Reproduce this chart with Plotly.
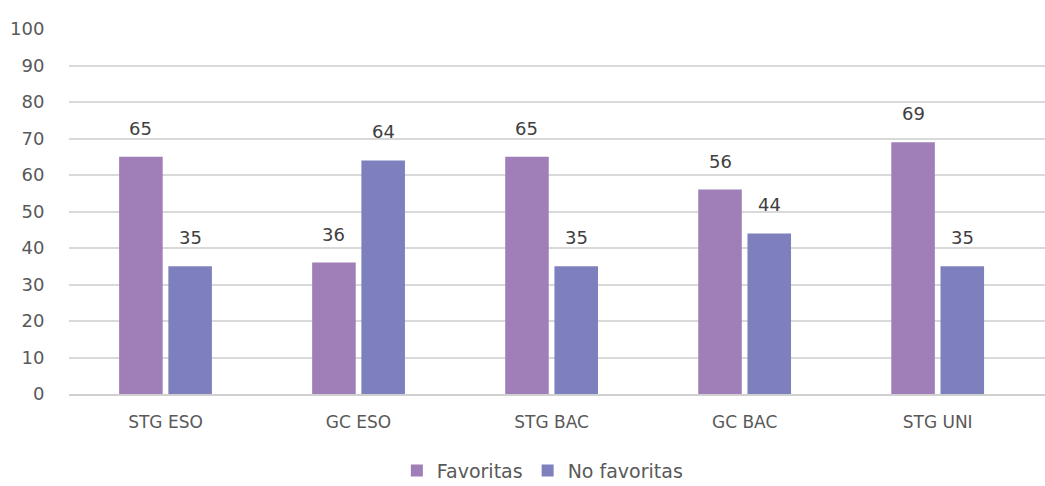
import plotly.graph_objects as go

categories = ["STG ESO", "GC ESO", "STG BAC", "GC BAC", "STG UNI"]
favoritas = [65, 36, 65, 56, 69]
no_favoritas = [35, 64, 35, 44, 35]
y_ticks = [0, 10, 20, 30, 40, 50, 60, 70, 80, 90, 100]

PURPLE = "#A07EB7"
BLUE = "#7E80BE"
FONT = "DejaVu Sans"

fig = go.Figure()
fig.add_trace(go.Bar(name="Favoritas", x=categories, y=favoritas,
                     marker=dict(color=PURPLE, line=dict(width=0))))
fig.add_trace(go.Bar(name="No favoritas", x=categories, y=no_favoritas,
                     marker=dict(color=BLUE, line=dict(width=0))))

# value labels above each bar
slot = 0.255
for offset, values in ((-slot / 2, favoritas), (slot / 2, no_favoritas)):
    for i, v in enumerate(values):
        fig.add_annotation(x=i + offset, y=v, text=str(v), showarrow=False,
                           yanchor="bottom", yshift=16,
                           font=dict(family=FONT, size=18, color="#404040"))

fig.update_layout(
    width=1045, height=486,
    margin=dict(l=69, r=0, t=29, b=92, autoexpand=False),
    paper_bgcolor="white", plot_bgcolor="white",
    barmode="group", bargap=0.49, bargroupgap=0.115,
    font=dict(family=FONT, size=18, color="#595959"),
    showlegend=True,
    legend=dict(orientation="h", x=0.485, xanchor="center",
                y=-0.21, yanchor="middle",
                font=dict(family=FONT, size=19, color="#595959"),
                traceorder="normal", tracegroupgap=0),
    xaxis=dict(range=[-0.5, 4.556], showgrid=False, showline=True,
               linecolor="#D0D0D0", linewidth=1.5,
               ticks="outside", ticklen=12, tickcolor="rgba(0,0,0,0)",
               tickfont=dict(family=FONT, size=17, color="#595959")),
    yaxis=dict(range=[0, 100], tickvals=y_ticks, showgrid=True,
               gridcolor="#D9D9D9", gridwidth=1.5, zeroline=False,
               ticks="outside", ticklen=20, tickcolor="rgba(0,0,0,0)",
               tickfont=dict(family=FONT, size=18, color="#595959")),
)

fig.write_html("out.html")
